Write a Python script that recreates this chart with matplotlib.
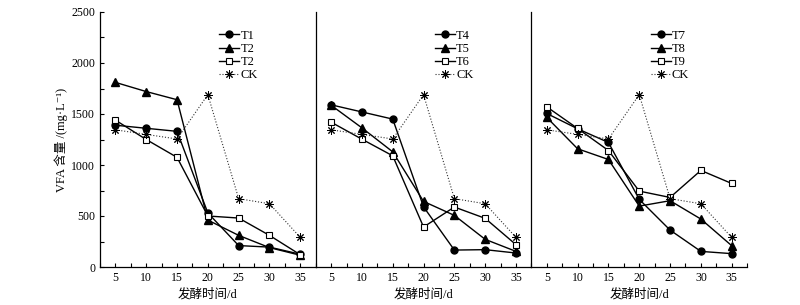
import matplotlib
matplotlib.use("Agg")
import matplotlib.pyplot as plt
from matplotlib.ticker import MultipleLocator

plt.rcParams['font.family'] = ['Liberation Serif', 'Noto Sans CJK SC', 'DejaVu Sans']
plt.rcParams['font.size'] = 8.5

days = [5, 10, 15, 20, 25, 30, 35]
ck = [1345, 1300, 1255, 1690, 670, 620, 290]

labels_p1 = ["T1", "T2", "T2", "CK"]
t1 = [1390, 1360, 1330, 530, 210, 195, 125]
t2 = [1810, 1720, 1640, 460, 310, 190, 115]
t3 = [1440, 1250, 1075, 500, 480, 310, 120]

labels_p2 = ["T4", "T5", "T6", "CK"]
t4 = [1590, 1520, 1450, 590, 166, 170, 137]
t5 = [1586, 1364, 1129, 643, 506, 271, 153]
t6 = [1420, 1253, 1090, 392, 588, 477, 219]

labels_p3 = ["T7", "T8", "T9", "CK"]
t7 = [1505, 1355, 1221, 663, 362, 153, 131]
t8 = [1466, 1159, 1054, 597, 650, 470, 209]
t9 = [1570, 1358, 1142, 744, 682, 947, 819]

panels = [
    (labels_p1, [t1, t2, t3, ck]),
    (labels_p2, [t4, t5, t6, ck]),
    (labels_p3, [t7, t8, t9, ck]),
]

fig = plt.figure(figsize=(8, 3.05), dpi=100)
left = 100 / 800
w = 215.7 / 800
bottom = 1 - 267 / 305
height = (267 - 12) / 305

styles = [
    dict(marker='o', color='black', mfc='black', mec='black', ms=5, lw=1.0, ls='-'),
    dict(marker='^', color='black', mfc='black', mec='black', ms=5.5, lw=1.0, ls='-'),
    dict(marker='s', color='black', mfc='white', mec='black', ms=5, mew=0.8, lw=1.0, ls='-'),
    dict(marker=(8, 2, 0), color='#333333', mfc='black', mec='black', ms=6, mew=0.7, lw=0.8, ls=':'),
]

for i, (labels, series) in enumerate(panels):
    ax = fig.add_axes([left + i * w, bottom, w, height])
    for lab, vals, st in zip(labels, series, styles):
        ax.plot(days, vals, label=lab, **st)
    ax.set_xlim(2.5, 37.5)
    ax.set_ylim(0, 2500)
    ax.spines['top'].set_visible(False)
    ax.spines['right'].set_visible(False)
    ax.xaxis.set_major_locator(MultipleLocator(5))
    ax.xaxis.set_minor_locator(MultipleLocator(2.5))
    ax.tick_params(axis='x', which='both', direction='in', length=3, width=0.8)
    ax.set_xticks(days)
    ax.set_xlabel("发酵时间/d", fontsize=9, labelpad=3)
    if i == 0:
        ax.yaxis.set_major_locator(MultipleLocator(500))
        ax.yaxis.set_minor_locator(MultipleLocator(250))
        ax.tick_params(axis='y', which='both', direction='in', length=3, width=0.8)
        ax.set_ylabel("VFA 含量 /(mg·L⁻¹)", fontsize=9, labelpad=2)
    else:
        ax.tick_params(axis='y', which='both', left=False, labelleft=False)
    for sp in ax.spines.values():
        sp.set_linewidth(0.9)
    ax.legend(loc='upper left', bbox_to_anchor=(0.5, 0.975), frameon=False,
              handlelength=1.6, handletextpad=0.1, labelspacing=0.1,
              borderaxespad=0.5, fontsize=9)

fig.savefig("out.png", dpi=100)
